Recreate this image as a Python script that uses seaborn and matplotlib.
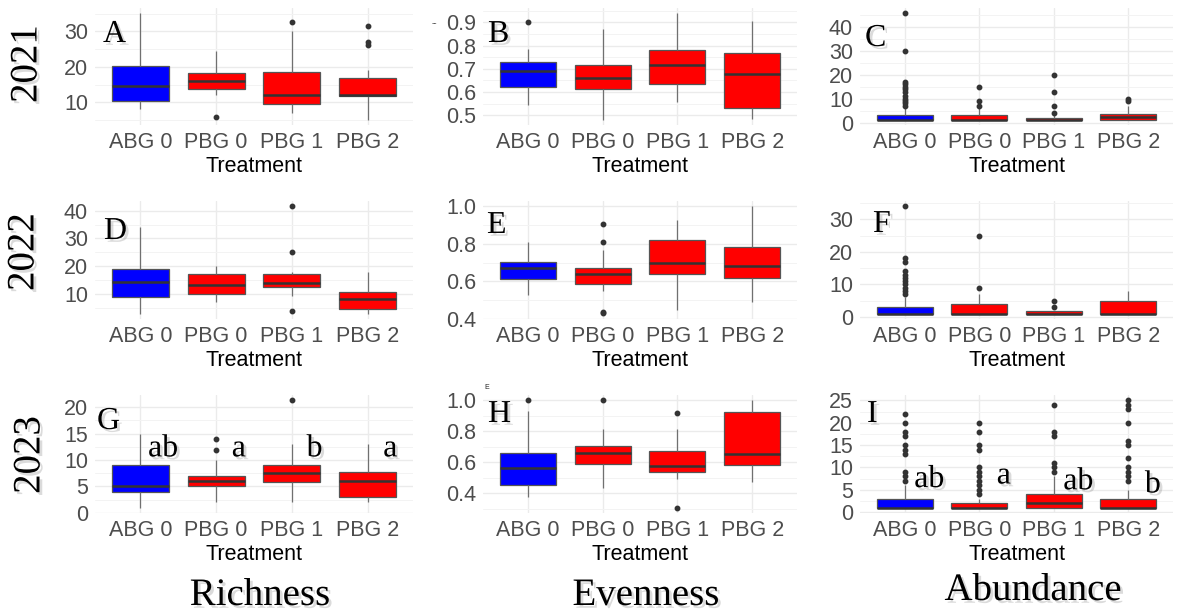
import numpy as np
import pandas as pd
import seaborn as sns
import matplotlib.pyplot as plt
import matplotlib.patheffects as pe

sns.set_theme(style="whitegrid")
plt.rcParams["font.family"] = ["Liberation Sans", "DejaVu Sans"]

treatments = ["ABG 0", "PBG 0", "PBG 1", "PBG 2"]
box_colors = ["#0000FF", "#FF0000", "#FF0000", "#FF0000"]
years = ["2021", "2022", "2023"]
metrics = ["Richness", "Evenness", "Abundance"]
panel_letters = ["A", "B", "C", "D", "E", "F", "G", "H", "I"]

# per treatment: [lower whisker, q1, median, q3, upper whisker]
richness_2021 = [[8, 10.3, 14.5, 20.3, 35.2], [12, 13.9, 16.1, 18.2, 24.5],
                 [7, 9.6, 12, 18.5, 30], [5, 11.8, 12, 16.9, 19.2]]
richness_2021_out = [[], [6], [32.5], [26.2, 27.1, 31.6]]
evenness_2021 = [[0.543, 0.621, 0.691, 0.729, 0.784], [0.479, 0.614, 0.66, 0.717, 0.87],
                 [0.556, 0.633, 0.717, 0.779, 0.941], [0.484, 0.531, 0.676, 0.767, 0.907]]
evenness_2021_out = [[0.9], [], [], []]
abundance_2021 = [[1, 1, 1, 3, 6], [1, 1, 1, 3.25, 6], [1, 1, 1, 2, 3], [1, 1.25, 2.5, 3.75, 7]]
abundance_2021_out = [[7, 8, 9, 10, 11, 13, 14, 15, 16, 17, 30, 46], [7, 9, 15],
                      [4, 7, 13, 20], [9, 10]]

richness_2022 = [[2.8, 8.7, 14.3, 19.0, 34.1], [6.9, 9.9, 13.3, 17.1, 20],
                 [9.3, 12.5, 13.9, 17.1, 17.8], [2.8, 4.5, 8.1, 10.5, 18]]
richness_2022_out = [[], [], [3.6, 25.1, 41.6], []]
evenness_2022 = [[0.527, 0.611, 0.673, 0.701, 0.811], [0.55, 0.585, 0.638, 0.673, 0.77],
                 [0.449, 0.641, 0.696, 0.823, 0.926], [0.488, 0.618, 0.684, 0.784, 1.0]]
evenness_2022_out = [[], [0.43, 0.435, 0.81, 0.906], [], []]
abundance_2022 = [[1, 1, 1, 3, 6], [1, 1, 1, 4, 7], [1, 1, 1, 1.75, 1.75], [1, 1, 1, 4.75, 8]]
abundance_2022_out = [[7, 8, 9, 10, 11, 12, 13, 14, 17, 18, 34], [9, 25], [3, 5], []]

richness_2023 = [[1, 4, 5, 9, 15], [2, 5, 6, 7, 10], [2, 5.8, 7.6, 9, 13], [2, 3, 6, 7.8, 13]]
richness_2023_out = [[], [12, 14], [21.3], []]
evenness_2023 = [[0.373, 0.453, 0.564, 0.663, 0.929], [0.436, 0.586, 0.663, 0.704, 0.817],
                 [0.491, 0.539, 0.577, 0.67, 0.813], [0.474, 0.582, 0.655, 0.923, 1.0]]
evenness_2023_out = [[1.0], [1.0], [0.307, 0.921], []]
abundance_2023 = [[1, 1, 1, 3, 6], [1, 1, 1, 2, 3], [1, 1, 2, 4, 8], [1, 1, 1, 3, 5]]
abundance_2023_out = [[7, 8, 9, 13, 14, 15, 17, 18, 20, 22],
                      [4, 5, 6, 7, 8, 9, 10, 14, 15, 18, 20],
                      [9, 10, 11, 17, 18, 24],
                      [7, 8, 9, 10, 12, 15, 16, 20, 23, 24, 25]]

sig_richness_2023 = ["ab", "a", "b", "a"]
sig_abundance_2023 = ["ab", "a", "ab", "b"]

y_ticks = {
    "Richness": [[10, 20, 30], [10, 20, 30, 40], [0, 5, 10, 15, 20]],
    "Evenness": [[0.5, 0.6, 0.7, 0.8, 0.9], [0.4, 0.6, 0.8, 1.0], [0.4, 0.6, 0.8, 1.0]],
    "Abundance": [[0, 10, 20, 30, 40], [0, 10, 20, 30], [0, 5, 10, 15, 20, 25]],
}

panels = [
    [(richness_2021, richness_2021_out), (evenness_2021, evenness_2021_out), (abundance_2021, abundance_2021_out)],
    [(richness_2022, richness_2022_out), (evenness_2022, evenness_2022_out), (abundance_2022, abundance_2022_out)],
    [(richness_2023, richness_2023_out), (evenness_2023, evenness_2023_out), (abundance_2023, abundance_2023_out)],
]


def panel_frame(stats, outs, m=60):
    # repeat each summary value so the quartiles come out exactly as read
    rows = []
    for name, s, o in zip(treatments, stats, outs):
        vals = list(np.repeat(s, m)) + list(o)
        rows.append(pd.DataFrame({"Treatment": name, "value": vals}))
    return pd.concat(rows, ignore_index=True)


W, H = 1177, 612
fig = plt.figure(figsize=(W / 100, H / 100), dpi=100)

col_left = [95, 483, 860]
col_width = [318, 314, 313]
row_top = [7.5, 201, 395]
row_height = 118

serif = ["Liberation Serif", "DejaVu Serif"]
shadow = [pe.withSimplePatchShadow(offset=(2, -2), shadow_rgbFace="#888888", alpha=0.3)]

letter_pos = [(103, 42), (488, 42), (865, 46),
              (104, 239), (487, 233), (873, 232),
              (97, 429), (488, 422), (867, 422)]

for r in range(3):
    for c in range(3):
        stats, outs = panels[r][c]
        ax = fig.add_axes([col_left[c] / W, 1 - (row_top[r] + row_height) / H,
                           col_width[c] / W, row_height / H])
        df = panel_frame(stats, outs)
        sns.boxplot(data=df, x="Treatment", y="value", hue="Treatment",
                    order=treatments, hue_order=treatments, palette=box_colors,
                    saturation=1, width=0.75, whis=1.5, showcaps=False,
                    linecolor="#555555", linewidth=0.9, fliersize=3.2,
                    medianprops=dict(color="#333333", linewidth=1.8),
                    whiskerprops=dict(color="#707070"),
                    flierprops=dict(marker="o", markerfacecolor="#333333",
                                    markeredgecolor="#333333"),
                    legend=False, ax=ax)

        allv = [v for s in stats for v in s] + [v for o in outs for v in o]
        lo, hi = min(allv), max(allv)
        pad = 0.05 * (hi - lo)
        ax.set_ylim(lo - pad, hi + pad)
        ax.set_xlim(-0.6, 3.6)

        major = y_ticks[metrics[c]][r]
        step = major[1] - major[0]
        ax.set_yticks(major)
        if metrics[c] == "Evenness":
            ax.set_yticklabels([f"{t:.1f}" for t in major])
        else:
            ax.set_yticklabels([f"{t:g}" for t in major])
        minor = [t + step / 2 for t in [major[0] - step] + major]
        minor = [t for t in minor if lo - pad <= t <= hi + pad]
        ax.set_yticks(minor, minor=True)

        ax.grid(which="major", color="#EBEBEB", linewidth=1.0)
        ax.grid(which="minor", axis="y", color="#F3F3F3", linewidth=0.7)
        ax.set_axisbelow(True)
        for s in ax.spines.values():
            s.set_visible(False)
        ax.tick_params(which="both", length=0, labelsize=15.5, colors="#4D4D4D", pad=5)
        ax.set_xlabel("Treatment", fontsize=15.5, color="black", labelpad=2)
        ax.set_ylabel("")

        lx, ly = letter_pos[r * 3 + c]
        fig.text(lx / W, 1 - ly / H, panel_letters[r * 3 + c], fontsize=23, color="black",
                 family=serif, va="baseline", ha="left", path_effects=shadow)

        if r == 2 and c == 0:
            for i, s in enumerate(sig_richness_2023):
                ax.text(i + 0.3, 10.7, s, fontsize=23, family=serif, ha="center",
                        color="black", va="baseline", path_effects=shadow)
        if r == 2 and c == 2:
            for i, (s, y) in enumerate(zip(sig_abundance_2023, [5.6, 6.4, 5.1, 4.4])):
                ax.text(i + 0.33, y, s, fontsize=23, family=serif, ha="center",
                        color="black", va="baseline", path_effects=shadow)

# row and column headings
for yr, (x, y) in zip(years, [(27, 64), (24, 252), (30, 455)]):
    fig.text(x / W, 1 - y / H, yr, fontsize=28, family=serif, rotation=90, color="black",
             ha="center", va="center", path_effects=shadow)
for name, (x, y) in zip(metrics, [(260, 605), (646, 605), (1033, 600)]):
    fig.text(x / W, 1 - y / H, name, fontsize=28, family=serif, color="black",
             ha="center", va="baseline", path_effects=shadow)

# stray marks in the original figure
fig.text(432 / W, 1 - 25 / H, "--", fontsize=6, color="#222222")
fig.text(484 / W, 1 - 389 / H, "E", fontsize=5, color="#222222")

fig.savefig("out.png", dpi=100)
